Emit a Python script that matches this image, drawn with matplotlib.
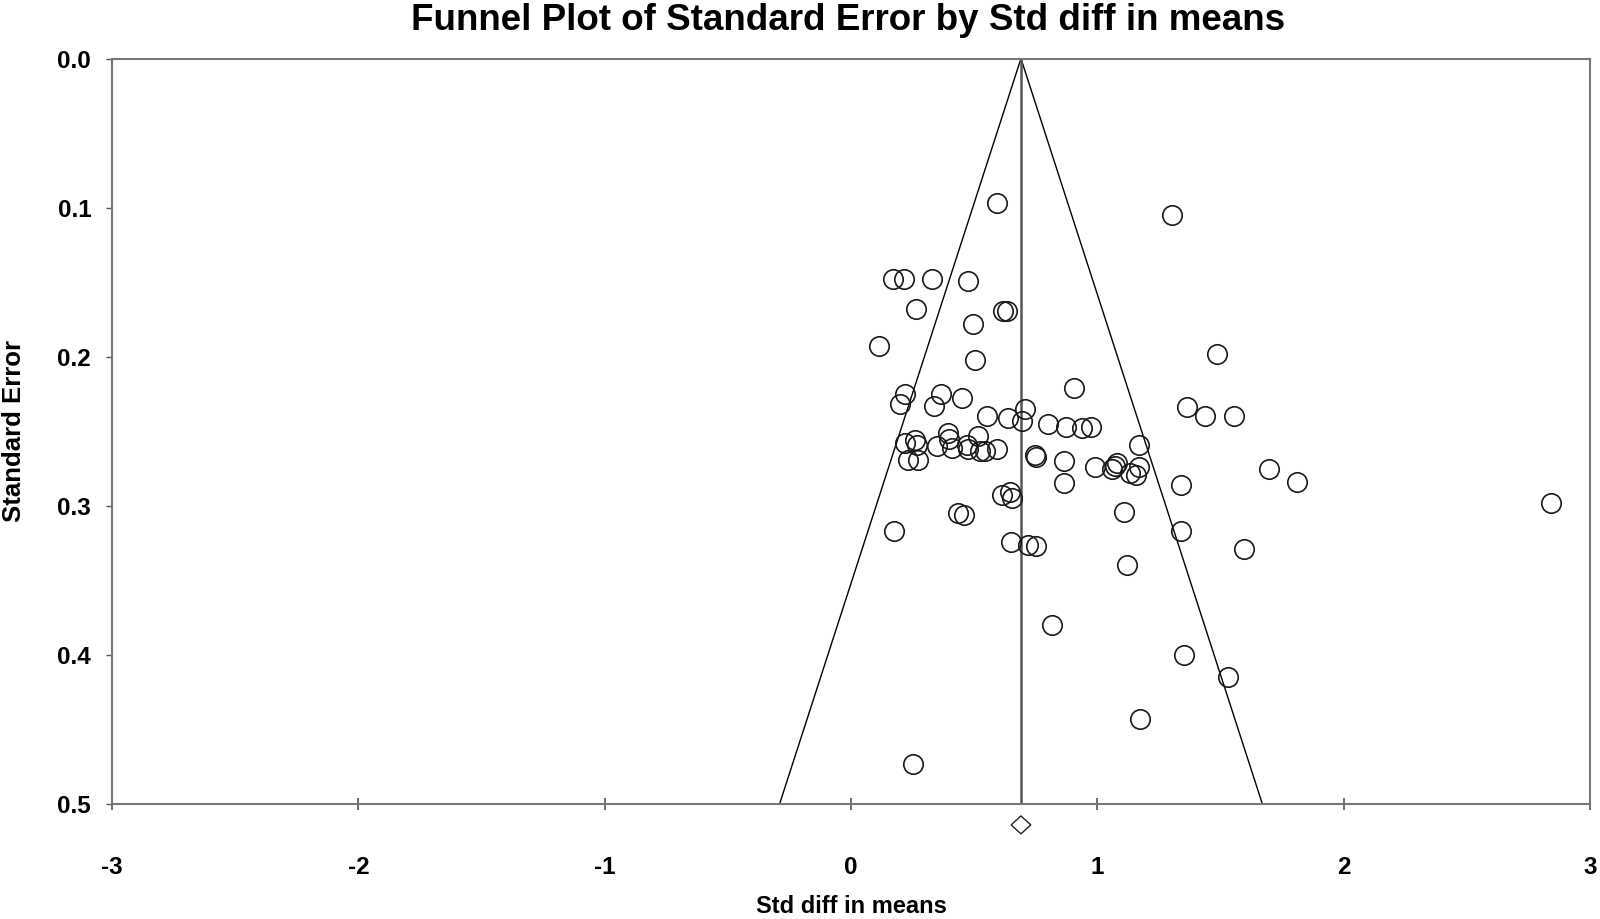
import numpy as np
import matplotlib.pyplot as plt
from matplotlib.patches import Polygon

plt.rcParams['font.family'] = ['Liberation Sans', 'DejaVu Sans']

# study effects (std diff in means) and standard errors
effect = [0.591, 0.171, 0.216, 0.327, 0.476, 0.263, 0.618, 0.632, 0.496, 0.113,
          0.503, 1.302, 1.487, 0.219, 0.198, 0.365, 0.338, 0.452, 0.905, 0.706,
          0.554, 0.638, 0.695, 0.801, 0.871, 0.939, 0.974, 0.219, 0.259, 0.266,
          0.395, 0.397, 0.514, 0.351, 0.411, 0.469, 0.473, 0.523, 0.546, 0.591,
          0.232, 0.270, 0.747, 0.753, 0.864, 0.990, 1.058, 1.072, 0.864, 0.611,
          0.645, 0.652, 0.435, 0.460, 0.174, 0.648, 0.720, 0.749, 1.363, 1.437,
          1.556, 1.170, 1.078, 1.169, 1.132, 1.156, 1.697, 1.809, 1.338, 1.110,
          1.338, 1.597, 1.119, 2.841, 0.814, 1.353, 1.532, 1.173, 0.253]
std_err = [0.097, 0.148, 0.148, 0.148, 0.149, 0.168, 0.169, 0.169, 0.178, 0.193,
           0.202, 0.105, 0.198, 0.225, 0.232, 0.225, 0.233, 0.228, 0.221, 0.235,
           0.240, 0.241, 0.243, 0.245, 0.247, 0.248, 0.247, 0.258, 0.256, 0.259,
           0.251, 0.255, 0.253, 0.260, 0.261, 0.259, 0.262, 0.263, 0.263, 0.262,
           0.269, 0.269, 0.266, 0.267, 0.270, 0.274, 0.275, 0.273, 0.285, 0.293,
           0.291, 0.295, 0.305, 0.306, 0.317, 0.324, 0.326, 0.327, 0.234, 0.240,
           0.240, 0.259, 0.271, 0.274, 0.278, 0.279, 0.275, 0.284, 0.286, 0.304,
           0.317, 0.329, 0.340, 0.298, 0.380, 0.400, 0.415, 0.443, 0.473]

summary = 0.69
summary_half_ci = 0.04
se_max = 0.5
diamond_se = 0.514
diamond_half_h = 0.006

x_ticks = [-3, -2, -1, 0, 1, 2, 3]
y_ticks = [0.0, 0.1, 0.2, 0.3, 0.4, 0.5]

fig = plt.figure(figsize=(16, 9.19), dpi=100)
ax = fig.add_axes([0.07, 0.1251, 0.92375, 0.8112])

# funnel
se_line = np.array([0, se_max])
ax.plot(summary - 1.96 * se_line, se_line, color='black', lw=1.0)
ax.plot(summary + 1.96 * se_line, se_line, color='black', lw=1.0)
ax.plot([summary, summary], [0, se_max], color='#555555', lw=1.8)

ax.plot(effect, std_err, 'o', ms=14, mfc='none', mec='#1a1a1a', mew=1.2)

diamond = Polygon([[summary - summary_half_ci, diamond_se],
                   [summary, diamond_se - diamond_half_h],
                   [summary + summary_half_ci, diamond_se],
                   [summary, diamond_se + diamond_half_h]],
                  closed=True, fill=False, edgecolor='#222222', lw=1.0,
                  clip_on=False)
ax.add_patch(diamond)

ax.set_xlim(-3, 3)
ax.set_ylim(0.5, 0.0)
ax.set_xticks(x_ticks)
ax.set_xticklabels([str(t) for t in x_ticks])
ax.set_yticks(y_ticks)
ax.set_yticklabels(['%.1f' % t for t in y_ticks])

for s in ax.spines.values():
    s.set_color('#777777')
    s.set_linewidth(1.5)

ax.tick_params(axis='x', direction='inout', length=9, width=1.2, color='#555555',
               pad=33, labelsize=17.5)
ax.tick_params(axis='y', direction='out', length=4, width=1.0, color='#555555',
               pad=11, labelsize=17.5)
for lab in ax.get_xticklabels() + ax.get_yticklabels():
    lab.set_fontweight('bold')

ax.set_xlabel('Std diff in means', fontsize=17, fontweight='bold')
ax.xaxis.set_label_coords(0.5, -0.122)
ax.set_ylabel('Standard Error', fontsize=18.5, fontweight='bold')
ax.yaxis.set_label_coords(-0.058, 0.5)
fig.text(0.53, 1 - 20.5 / 919, 'Funnel Plot of Standard Error by Std diff in means',
         fontsize=26.5, fontweight='bold', ha='center', va='center')

fig.savefig('out.png', dpi=100, facecolor='white')
